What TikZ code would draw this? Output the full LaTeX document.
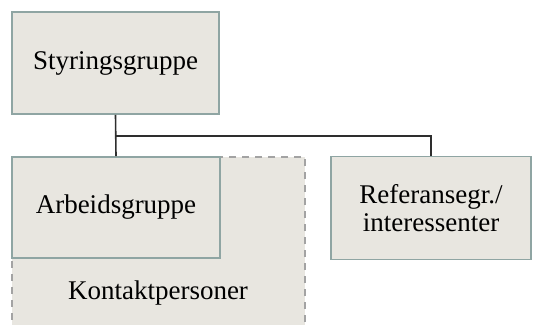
\documentclass[tikz,border=0pt]{standalone}
\usepackage{fontspec}
\setmainfont{Liberation Serif}
\definecolor{boxfill}{HTML}{E8E6E0}
\definecolor{boxline}{HTML}{8FA5A3}
\definecolor{dashline}{HTML}{A3A3A3}
\definecolor{conn}{HTML}{2E2E2E}
\begin{document}
\begin{tikzpicture}[x=1pt,y=-1pt,
  orgbox/.style={draw=boxline, line width=1.8pt, fill=boxfill, inner sep=0pt,
    font=\fontsize{27}{28}\selectfont, align=center},
  groupbox/.style={draw=dashline, line width=1.6pt, dash pattern=on 7pt off 6pt, fill=boxfill},
  link/.style={draw=conn, line width=1.6pt}]
\useasboundingbox (0,0) rectangle (534,324);
\clip (0,0) rectangle (534,324);
% dashed contact group area
\path[groupbox] (12,157) rectangle (305,340);
\node[font=\fontsize{27}{28}\selectfont] (K) at (158,293) {Kontaktpersoner};
% boxes
\node[orgbox, minimum width=207pt, minimum height=102pt] (S) at (115.5,63) {Styringsgruppe};
\node[orgbox, minimum width=208pt, minimum height=101pt] (A) at (116,207.5) {Arbeidsgruppe};
\node[orgbox, minimum width=200pt, minimum height=103pt] (R) at (431,208) {Referansegr./\\interessenter};
% connectors
\coordinate (J) at (S.south |- 0,136);
\draw[link] (S.south) -- (A.north);
\draw[link] (J) -| (R.north);
\end{tikzpicture}
\end{document}
